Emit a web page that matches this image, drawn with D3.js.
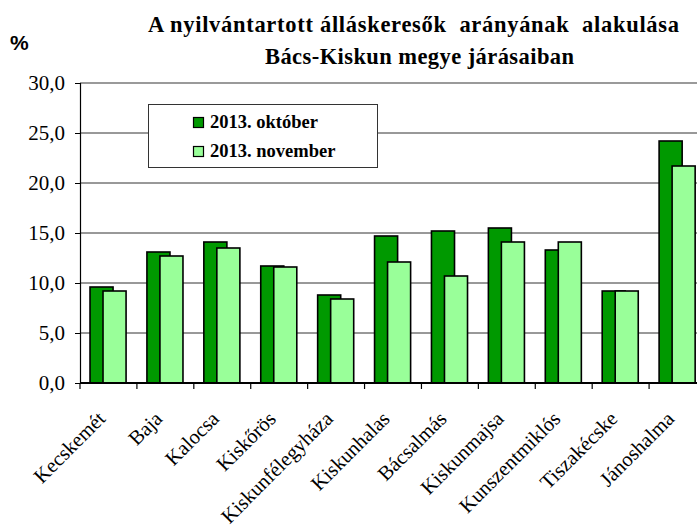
<!DOCTYPE html>
<html>
<head>
<meta charset="utf-8">
<script src="https://cdn.jsdelivr.net/npm/d3@7"></script>
<style>
  html, body { margin: 0; padding: 0; background: #fff; }
  svg { display: block; }
</style>
</head>
<body>
<svg id="chart" width="697" height="528"></svg>
<script>
const categories = ["Kecskemét","Baja","Kalocsa","Kiskőrös","Kiskunfélegyháza","Kiskunhalas","Bácsalmás","Kiskunmajsa","Kunszentmiklós","Tiszakécske","Jánoshalma"];
const seriesNames = ["2013. október","2013. november"];
const octoberValues = [9.6,13.1,14.1,11.7,8.8,14.7,15.2,15.5,13.3,9.2,24.2];
const novemberValues = [9.2,12.7,13.5,11.6,8.4,12.1,10.7,14.1,14.1,9.2,21.7];
const seriesColors = ["#009900","#99ff99"];
const yTicks = [0,5,10,15,20,25,30];
const titleLines = ["A nyilvántartott álláskeresők  arányának  alakulása","Bács-Kiskun megye járásaiban"];

(function () {
const serif = "'Liberation Serif','Times New Roman',serif";
const svg = d3.select("#chart");

const pLeft = 80, pTop = 83, pBottom = 383, pRight = 706;
const x = d3.scaleBand().domain(categories).range([pLeft, pRight]).padding(0);
const y = d3.scaleLinear().domain([0, 30]).range([pBottom, pTop]);

// series offsets within each band
const xs = d3.scaleBand().domain(seriesNames).range([0.176, 0.633]).padding(0);
const barW = x.bandwidth() * 0.405;
const seriesData = [octoberValues, novemberValues];

// gridlines
svg.append("g").selectAll("line")
  .data(yTicks.filter(t => t > 0 && t < 30))
  .join("line")
  .attr("x1", pLeft).attr("x2", pRight)
  .attr("y1", d => y(d)).attr("y2", d => y(d))
  .attr("stroke", "#333").attr("stroke-width", 1);

// top border
svg.append("line")
  .attr("x1", pLeft).attr("x2", pRight)
  .attr("y1", y(30)).attr("y2", y(30))
  .attr("stroke", "#9a9a9a").attr("stroke-width", 2);

// legend (drawn over gridline)
const lg = svg.append("g");
lg.append("rect").attr("x", 148.5).attr("y", 104.5).attr("width", 229).attr("height", 63)
  .attr("fill", "#fff").attr("stroke", "#333").attr("stroke-width", 1);
seriesNames.forEach((s, i) => {
  const yy = 117 + i * 29;
  lg.append("rect").attr("x", 193.5).attr("y", yy + 0.5).attr("width", 10).attr("height", 10)
    .attr("fill", seriesColors[i]).attr("stroke", "#000").attr("stroke-width", 1.2);
  lg.append("text").attr("x", 210).attr("y", yy + 10.5)
    .style("font-family", serif).style("font-weight", "bold").style("font-size", "18.5px")
    .attr("fill", "#000").text(s);
});

// bars
seriesData.forEach((vals, si) => {
  svg.append("g").selectAll("rect")
    .data(categories.map((c, i) => ({c, v: vals[i]})))
    .join("rect")
    .attr("x", d => x(d.c) + xs(seriesNames[si]) * x.bandwidth())
    .attr("y", d => y(d.v))
    .attr("width", barW)
    .attr("height", d => y(0) - y(d.v))
    .attr("fill", seriesColors[si])
    .attr("stroke", "#000").attr("stroke-width", 1.6);
});

// y axis
const yAxis = svg.append("g").attr("transform", `translate(${pLeft},0)`)
  .call(d3.axisLeft(y).tickValues(yTicks).tickSize(5).tickPadding(10)
    .tickFormat(d => d3.format(".1f")(d).replace(".", ",")));
yAxis.select(".domain").attr("stroke", "#000").attr("stroke-width", 1.2);
yAxis.selectAll(".tick line").attr("stroke", "#000");
yAxis.selectAll("text").style("font-family", serif).style("font-size", "21px").attr("fill", "#000");

// x axis
const xAxis = svg.append("g").attr("transform", `translate(0,${pBottom})`);
xAxis.append("line").attr("x1", pLeft).attr("x2", pRight).attr("y1", 0).attr("y2", 0)
  .attr("stroke", "#000").attr("stroke-width", 2);
xAxis.selectAll("line.tk")
  .data(categories)
  .join("line").attr("class", "tk")
  .attr("x1", d => x(d)).attr("x2", d => x(d))
  .attr("y1", 0).attr("y2", 6)
  .attr("stroke", "#000").attr("stroke-width", 1.2);
xAxis.selectAll("text")
  .data(categories)
  .join("text")
  .attr("transform", d => `translate(${x(d) + x.bandwidth() / 2 - 2},37) rotate(-45)`)
  .attr("text-anchor", "end")
  .style("font-family", serif).style("font-size", "20.5px").attr("fill", "#000")
  .text(d => d);

// percent label
svg.append("text").attr("x", 10).attr("y", 50)
  .style("font-family", "'Liberation Sans',Arial,sans-serif").style("font-weight", "bold")
  .style("font-size", "21px").attr("fill", "#000").text("%");

// title
const titleX = [148, 265], titleY = [32, 64], titleW = [531, 309];
titleLines.forEach((t, i) => {
  svg.append("text").attr("x", titleX[i]).attr("y", titleY[i])
    .style("font-family", serif).style("font-weight", "bold").style("font-size", "22.5px")
    .attr("fill", "#000")
    .attr("textLength", titleW[i]).attr("lengthAdjust", "spacing")
    .style("white-space", "pre")
    .text(t);
});
})();
</script>
</body>
</html>
